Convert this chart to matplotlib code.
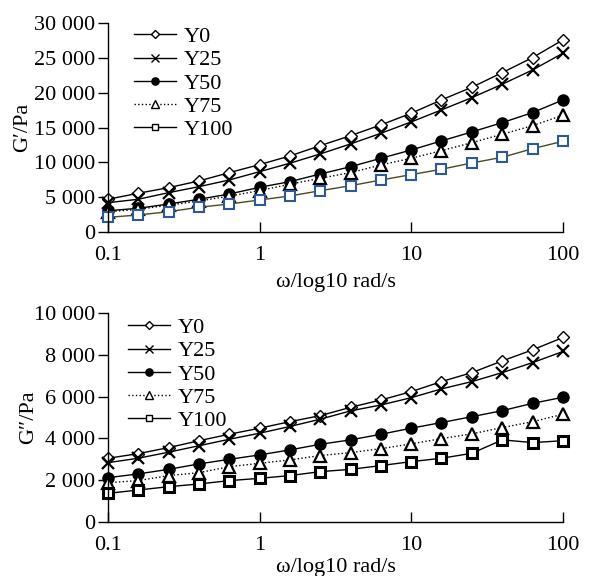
import matplotlib
matplotlib.use("Agg")
import matplotlib.pyplot as plt
from matplotlib.ticker import FuncFormatter, NullLocator

plt.rcParams['font.family'] = ['Liberation Serif', 'DejaVu Serif']
plt.rcParams['mathtext.fontset'] = 'stix'

freq = [0.1, 0.158, 0.251, 0.398, 0.631, 1.0, 1.58, 2.51, 3.98, 6.31,
        10.0, 15.8, 25.1, 39.8, 63.1, 100.0]
series_names = ["Y0", "Y25", "Y50", "Y75", "Y100"]

g1_Y0 = [4700, 5560, 6370, 7330, 8530, 9680, 10920, 12400, 13840, 15380,
         17060, 18970, 20790, 22890, 25050, 27590]
g1_Y25 = [4210, 4700, 5650, 6510, 7470, 8670, 9870, 11210, 12650, 14180,
          15810, 17530, 19300, 21220, 23280, 25680]
g1_Y50 = [3060, 3400, 4020, 4700, 5460, 6420, 7230, 8330, 9380, 10590,
          11780, 13080, 14370, 15710, 17150, 18970]
g1_Y75 = [2900, 3250, 3850, 4450, 5150, 5950, 6850, 7720, 8530, 9630,
          10590, 11680, 12830, 14040, 15280, 16770]
g1_Y100 = [2110, 2440, 2920, 3550, 4020, 4600, 5170, 5930, 6650, 7470,
           8240, 9010, 9920, 10730, 11970, 13030]

g2_Y0 = [3050, 3270, 3560, 3890, 4200, 4490, 4800, 5090, 5490, 5840,
         6240, 6720, 7150, 7710, 8240, 8830]
g2_Y25 = [2840, 3050, 3340, 3650, 3960, 4250, 4570, 4920, 5320, 5600,
          5950, 6370, 6720, 7150, 7630, 8160]
g2_Y50 = [2120, 2300, 2520, 2780, 3000, 3210, 3450, 3720, 3930, 4200,
          4490, 4760, 5040, 5330, 5680, 5970]
g2_Y75 = [1880, 1980, 2220, 2360, 2650, 2810, 2970, 3180, 3320, 3510,
          3740, 3990, 4220, 4520, 4800, 5160]
g2_Y100 = [1370, 1530, 1690, 1820, 1980, 2090, 2220, 2410, 2520, 2700,
           2890, 3050, 3290, 3930, 3800, 3890]

yticks_top = [0, 5000, 10000, 15000, 20000, 25000, 30000]
yticks_bot = [0, 2000, 4000, 6000, 8000, 10000]
xticks = [0.1, 1, 10, 100]
xticklabels = ["0.1", "1", "10", "100"]

fig = plt.figure(figsize=(5.91, 5.76), dpi=100)
ax1 = fig.add_axes([0.1827, 0.5972, 0.770, 0.3628])
ax2 = fig.add_axes([0.1827, 0.09375, 0.770, 0.3628])

def fmt(v, pos):
    v = int(round(v))
    return f"{v:,}".replace(",", " ")

def style(ax, ylim, yticks, ylabel, ylabel_x, xlabelpad):
    ax.set_xscale('log')
    ax.set_xlim(0.1, 100)
    ax.set_ylim(*ylim)
    ax.set_yticks(yticks)
    ax.yaxis.set_major_formatter(FuncFormatter(fmt))
    ax.set_xticks(xticks)
    ax.set_xticklabels(xticklabels)
    ax.xaxis.set_minor_locator(NullLocator())
    for s in ['top', 'right']:
        ax.spines[s].set_visible(False)
    for s in ['left', 'bottom']:
        ax.spines[s].set_linewidth(1.0)
    ax.tick_params(axis='x', direction='in', length=7, width=1.0, labelsize=16, pad=10)
    ax.tick_params(axis='y', direction='out', length=7, width=1.0, labelsize=16, pad=2)
    ax.set_ylabel(ylabel, fontsize=16)
    ax.yaxis.set_label_coords(ylabel_x, 0.5)
    ax.set_xlabel("ω/log10 rad/s", fontsize=16, labelpad=xlabelpad)

def plot_all(ax, data, y100_line, y100_marker, y100_mew, legend_xy):
    ax.plot(freq, data[0], color='black', marker='D', markersize=6.5,
            markerfacecolor='white', markeredgecolor='black', linewidth=1.0,
            label=series_names[0], clip_on=False)
    ax.plot(freq, data[1], color='black', marker='x', markersize=9,
            markeredgewidth=1.6, linewidth=1.0, label=series_names[1], clip_on=False)
    ax.plot(freq, data[2], color='black', marker='o', markersize=8,
            markerfacecolor='black', linewidth=1.0, label=series_names[2], clip_on=False)
    ax.plot(freq, data[3], color='black', linestyle=':', marker='^', markersize=9,
            markerfacecolor='white', markeredgecolor='black', markeredgewidth=1.6,
            linewidth=1.0, label=series_names[3], clip_on=False)
    ax.plot(freq, data[4], color=y100_line, marker='s', markersize=7.5,
            markerfacecolor='white', markeredgecolor=y100_marker,
            markeredgewidth=y100_mew, linewidth=1.0, label=series_names[4], clip_on=False)
    leg = ax.legend(loc='upper left', bbox_to_anchor=legend_xy, frameon=False,
                    fontsize=16, handlelength=1.9, handletextpad=0.35,
                    labelspacing=0.12, markerscale=0.65, borderaxespad=0.3)
    for h in leg.legend_handles:
        h.set_color('black')
        h.set_markeredgecolor('black')
        h.set_markeredgewidth(1.0)

style(ax1, (0, 30000), yticks_top, "G′/Pa", -0.167, 6)
plot_all(ax1, [g1_Y0, g1_Y25, g1_Y50, g1_Y75, g1_Y100], '#4a4a20', '#2b5a9a', 1.5, (0.022, 1.057))
style(ax2, (0, 10000), yticks_bot, "G″/Pa", -0.154, 2)
plot_all(ax2, [g2_Y0, g2_Y25, g2_Y50, g2_Y75, g2_Y100], 'black', 'black', 2.2, (0.009, 1.053))

fig.savefig("out.png", dpi=100)
